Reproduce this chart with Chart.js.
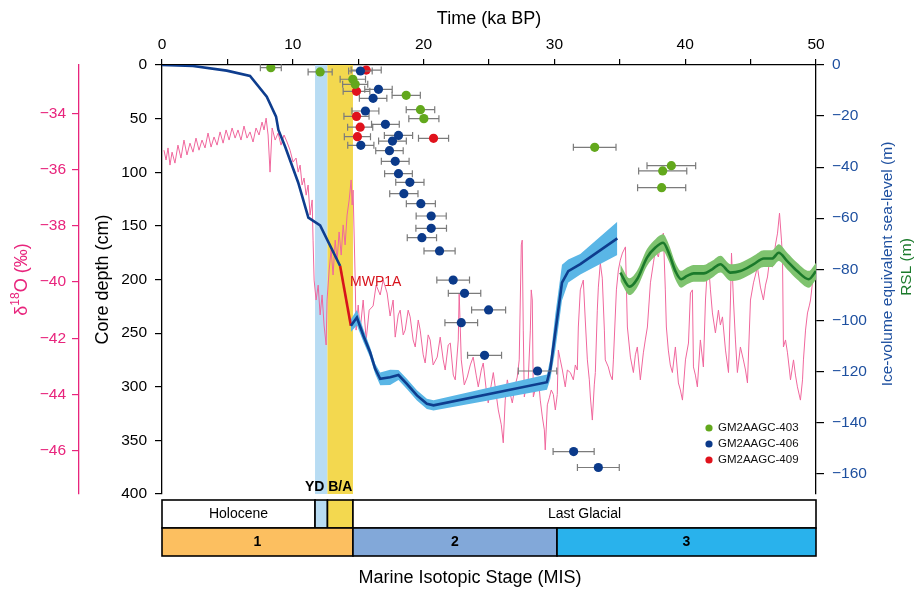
<!DOCTYPE html>
<html><head><meta charset="utf-8">
<script src="https://cdn.jsdelivr.net/npm/chart.js@4.4.1/dist/chart.umd.min.js"></script>
<style>html,body{margin:0;padding:0;background:#fff}#wrap{width:919px;height:590px}</style>
</head><body><div id="wrap"><canvas id="c" width="919" height="590"></canvas></div>
<script>
// ---------- tick labels ----------
const timeTicks = [0,5,10,15,20,25,30,35,40,45,50];
const depthTicks = [0,50,100,150,200,250,300,350,400];
const d18OTicks = [-34,-36,-38,-40,-42,-44,-46];
const seaLevelTicks = [0,-20,-40,-60,-80,-100,-120,-140,-160];

// ---------- δ18O record (ka BP, ‰) ----------
const d18OAge = [0.15,0.31,0.46,0.61,0.77,0.99,1.22,1.45,1.68,1.91,2.14,2.37,2.60,2.83,3.06,3.29,3.52,3.75,3.98,4.21,4.44,4.67,4.90,5.13,5.36,5.59,5.81,6.04,6.27,6.50,6.73,6.96,7.19,7.42,7.65,7.80,7.96,8.11,8.26,8.42,8.65,8.88,9.10,9.33,9.56,9.79,10.02,10.25,10.41,10.56,10.71,10.86,11.02,11.17,11.32,11.48,11.55,11.63,11.78,11.94,12.09,12.24,12.39,12.55,12.62,12.78,12.93,13.08,13.24,13.39,13.54,13.70,13.85,14.00,14.15,14.31,14.46,14.54,14.61,14.77,14.84,15.00,15.15,15.38,15.61,15.84,16.14,16.37,16.68,16.91,17.21,17.44,17.67,17.83,18.06,18.21,18.44,18.59,18.82,18.97,19.20,19.36,19.59,19.74,19.97,20.12,20.35,20.50,20.73,21.04,21.27,21.50,21.65,21.88,22.04,22.27,22.42,22.65,22.72,22.88,23.11,23.34,23.57,23.79,24.02,24.18,24.41,24.56,24.79,24.94,25.17,25.33,25.55,25.71,25.94,26.09,26.24,26.40,26.63,26.78,27.01,27.16,27.31,27.47,27.54,27.62,27.70,27.85,28.00,28.16,28.23,28.31,28.39,28.62,28.77,28.92,29.08,29.23,29.30,29.46,29.61,29.76,29.92,30.07,30.22,30.30,30.45,30.61,30.83,30.99,31.22,31.45,31.60,31.75,31.83,31.98,32.14,32.21,32.36,32.52,32.67,32.75,32.90,33.05,33.13,33.28,33.36,33.51,33.66,33.82,33.89,34.12,34.28,34.43,34.51,34.74,34.89,35.04,35.20,35.43,35.58,35.81,36.04,36.19,36.34,36.57,36.80,36.95,37.11,37.34,37.57,37.72,37.95,38.10,38.25,38.33,38.48,38.56,38.71,38.86,39.02,39.25,39.48,39.63,39.79,40.02,40.25,40.40,40.55,40.63,40.78,40.93,41.16,41.39,41.55,41.70,41.78,41.93,42.08,42.31,42.54,42.69,42.85,43.08,43.31,43.46,43.54,43.69,43.84,43.99,44.22,44.45,44.61,44.76,44.99,45.22,45.37,45.52,45.75,45.98,46.14,46.29,46.52,46.67,46.90,47.06,47.21,47.36,47.44,47.51,47.67,47.82,47.97,48.05,48.28,48.43,48.58,48.81,48.97,49.04,49.20,49.35,49.50,49.58,49.73,49.81,49.96];
const d18OValue = [-35.31,-35.66,-35.23,-35.84,-35.38,-35.77,-35.13,-35.59,-34.95,-35.48,-35.06,-35.38,-34.88,-35.31,-34.95,-35.23,-34.70,-35.20,-34.84,-35.13,-34.66,-35.06,-34.59,-34.95,-34.52,-34.88,-34.59,-34.95,-34.45,-34.88,-34.66,-35.02,-34.52,-34.77,-34.31,-34.59,-34.17,-34.77,-36.09,-34.52,-34.95,-34.70,-35.13,-34.77,-35.02,-35.31,-35.73,-35.59,-36.09,-35.84,-36.55,-36.30,-36.91,-36.55,-37.62,-37.08,-38.51,-39.93,-40.64,-40.11,-41.17,-40.46,-41.53,-42.24,-40.64,-39.57,-38.86,-39.75,-38.51,-39.22,-38.22,-39.04,-37.97,-38.68,-37.62,-37.08,-36.37,-37.26,-36.73,-39.93,-41.71,-40.82,-41.71,-40.64,-42.06,-41.00,-40.85,-40.11,-40.46,-39.93,-40.39,-41.21,-40.64,-41.96,-41.17,-41.00,-41.88,-41.71,-41.00,-41.24,-42.06,-42.31,-41.35,-41.71,-42.59,-42.88,-41.88,-42.06,-42.95,-42.67,-41.96,-42.77,-43.13,-42.24,-42.17,-43.31,-43.48,-42.06,-40.39,-42.77,-43.66,-43.38,-42.95,-42.67,-43.31,-43.73,-43.13,-42.88,-43.84,-44.30,-43.66,-43.22,-44.00,-44.55,-45.08,-45.72,-44.20,-43.48,-44.00,-44.30,-43.66,-43.38,-42.77,-38.68,-38.51,-41.71,-44.09,-43.66,-43.48,-41.71,-40.28,-40.64,-44.09,-43.66,-43.38,-44.20,-44.80,-45.26,-45.97,-44.37,-44.12,-43.84,-44.00,-44.55,-44.00,-42.42,-42.77,-43.13,-43.73,-43.13,-43.22,-43.48,-42.95,-43.13,-41.60,-40.28,-40.03,-39.93,-41.35,-42.77,-43.48,-44.09,-44.91,-43.66,-43.22,-41.00,-40.18,-39.32,-39.86,-41.71,-42.77,-43.02,-43.31,-43.48,-42.77,-40.28,-39.57,-39.22,-38.97,-38.75,-41.60,-42.67,-43.22,-42.59,-42.31,-43.48,-42.52,-42.06,-41.60,-40.03,-39.32,-38.86,-39.11,-38.68,-38.40,-38.26,-40.28,-41.60,-42.42,-42.95,-43.22,-42.31,-43.59,-43.84,-44.20,-42.77,-42.17,-40.39,-40.28,-43.02,-43.31,-43.73,-42.06,-43.02,-40.64,-39.47,-39.32,-40.28,-41.10,-41.81,-41.00,-41.53,-41.24,-42.42,-43.22,-40.64,-38.97,-40.64,-42.06,-43.22,-42.31,-42.77,-43.13,-43.59,-40.64,-40.03,-39.75,-39.47,-40.18,-40.64,-40.11,-39.82,-38.97,-39.47,-38.68,-38.26,-37.55,-38.51,-39.11,-42.31,-42.06,-42.52,-43.13,-43.48,-42.77,-43.31,-43.73,-44.20,-43.48,-42.77,-41.71,-41.10,-40.82,-40.64,-40.03,-39.82,-39.93];

// ---------- ice-volume equivalent sea level (ka BP, m, ±m) ----------
const iceAge = [0,2.37,4.95,6.73,8.01,8.72,8.90,9.41,10.41,11.19,12.09,13.62,14.44,14.90,15.40,15.91,16.30,16.68,17.44,18.08,18.72,19.49,20.25,20.76,29.43,29.69,30.07,30.58,31.06,31.98,34.81];
const iceSL = [0,-0.4,-2.2,-4.3,-12.4,-20.2,-25.4,-31.9,-46.0,-59.8,-62.8,-78.7,-102.1,-98.9,-106.0,-112.5,-119.0,-122.9,-122.3,-121.4,-124.9,-129.4,-132.7,-133.3,-124.2,-119.0,-104.6,-85.2,-80.7,-78.0,-67.9];
const iceErr = [null,null,null,null,null,null,null,null,null,null,null,null,2.5,3,2.5,2,2,2.5,3,2,2,2,2,2,3,4,7,7,4.5,4,6.5];
const mwp1aStart = 13.6, mwp1aEnd = 14.45;

// ---------- RSL (ka BP, m, ±m) ----------
const rslAge = [35.04,35.75,36.32,37.08,37.72,38.31,38.74,39.25,39.69,40.14,40.65,41.42,42.06,42.69,43.46,44.22,45.24,46.01,46.65,47.15,47.80,48.56,49.45,50.0];
const rslValue = [-81.3,-86.8,-83.9,-75.4,-71.5,-69.6,-73.5,-80.7,-83.9,-82.6,-81.6,-81.6,-80.0,-78.0,-81.3,-80.7,-78.0,-75.8,-75.8,-73.5,-76.8,-80.7,-83.9,-80.7];
const rslErr = [3.3,3.3,3.3,3.3,3.3,3.3,3.3,3.3,3.3,3.3,3.3,3.3,3.3,3.3,3.3,3.3,3.3,3.3,3.3,3.3,3.3,3.3,3.3,3.3];

// ---------- dated samples (ka BP, core depth cm, ±ka) ----------
const s403Age = [8.32,12.09,14.59,14.77,18.67,19.76,20.02,33.08,38.94,38.28,38.20];
const s403Depth = [2.5,6.5,13.3,18.0,28.3,41.7,50.0,76.8,93.9,98.8,114.4];
const s403Err = [0.80,0.92,0.97,0.96,1.08,1.09,1.15,1.63,1.86,1.84,1.84];
const s406Age = [15.17,16.55,16.14,15.55,17.08,18.08,17.62,15.20,17.39,17.83,18.08,18.95,18.49,19.79,20.58,20.58,19.87,21.22,22.26,23.13,24.97,22.88,24.66,28.71,31.47,33.36];
const s406Depth = [5.6,22.7,31.1,42.9,55.3,65.7,70.9,74.9,79.9,89.8,101.3,109.4,120.0,129.3,140.8,152.3,161.0,173.4,200.5,212.9,228.4,240.3,270.7,285.3,360.4,375.3];
const s406Err = [0.90,1.05,1.05,1.03,1.06,1.08,1.06,1.00,1.05,1.06,1.06,1.08,1.08,1.11,1.15,1.17,1.12,1.19,1.25,1.24,1.30,1.25,1.30,1.47,1.57,1.60];
const s409Age = [15.61,14.87,14.87,15.15,14.94,20.76];
const s409Depth = [4.7,24.5,47.9,58.0,66.8,68.4];
const s409Err = [1.15,1.02,0.96,0.96,1.00,1.15];

// ---------- periods ----------
const periodNames = ['Holocene','','','Last Glacial'];
const periodStart = [0,11.7,12.65,14.6];
const periodEnd = [11.7,12.65,14.6,50];
const eventNames = ['YD','B/A'];
const eventStart = [11.7,12.65];
const eventEnd = [12.65,14.6];
const misNames = ['1','2','3'];
const misStart = [0,14.6,30.2];
const misEnd = [14.6,30.2,50];
const mwpLabel = {text:'MWP1A', age:14.38, sl:-85.1};

// ---------- styles ----------
const COL = {
  pinkAxis:'#e8247c', pinkLine:'#f0679d', navy:'#0e3d8e', iceBand:'#5ab6e6', green:'#1b7a2b', rslBand:'#7fc36f',
  red:'#d7121c', g403:'#62a81c', g406:'#0b3a8a', g409:'#e0121c', err:'#7b7b7b', slText:'#1d4f9f',
  yd:'#b8dcf3', ba:'#f3d84f', mis:['#fcbf60','#82a8d9','#29b2ec'], periodFill:['#ffffff','#b8dcf3','#f3d84f','#ffffff']
};
const FONT = "'Liberation Sans', Arial, Helvetica, sans-serif";
Chart.defaults.font.family = FONT;
Chart.defaults.color = '#000';

const pts = (xs, ys) => xs.map((x,i) => ({x, y: ys[i]})).filter(p => p.y !== null);
const bandPts = (xs, ys, es, sign) => xs.map((x,i) => es[i] === null ? null : ({x, y: ys[i] + sign*es[i]})).filter(p => p);

// ---------- plugins ----------
const eventBands = {
  id:'eventBands',
  beforeDatasetsDraw(chart) {
    const {ctx, chartArea:a, scales:{x}} = chart;
    ctx.save();
    [COL.yd, COL.ba].forEach((c,i) => {
      const x0 = x.getPixelForValue(eventStart[i]), x1 = x.getPixelForValue(eventEnd[i]);
      ctx.fillStyle = c; ctx.fillRect(x0, a.top, x1-x0, a.bottom-a.top);
    });
    ctx.restore();
  }
};
const errorBars = {
  id:'errorBars',
  beforeDatasetDraw(chart, args) {
    const ds = chart.data.datasets[args.index];
    if (!ds.xErr) return;
    const {ctx} = chart; const xs = chart.scales.x; const ys = chart.scales[ds.yAxisID];
    ctx.save(); ctx.strokeStyle = COL.err; ctx.lineWidth = 1.2;
    ds.data.forEach((p,i) => {
      const x0 = xs.getPixelForValue(p.x - ds.xErr[i]), x1 = xs.getPixelForValue(p.x + ds.xErr[i]), y = ys.getPixelForValue(p.y);
      ctx.beginPath();
      ctx.moveTo(x0,y); ctx.lineTo(x1,y);
      ctx.moveTo(x0,y-3.5); ctx.lineTo(x0,y+3.5);
      ctx.moveTo(x1,y-3.5); ctx.lineTo(x1,y+3.5);
      ctx.stroke();
    });
    ctx.restore();
  }
};
const decorations = {
  id:'decorations',
  afterDraw(chart) {
    const {ctx, chartArea:a, scales:{x, ySL}} = chart;
    ctx.save();
    // MWP1A label
    ctx.fillStyle = COL.red; ctx.font = `14px ${FONT}`; ctx.textAlign='left'; ctx.textBaseline='middle';
    ctx.fillText(mwpLabel.text, x.getPixelForValue(mwpLabel.age), ySL.getPixelForValue(mwpLabel.sl));

    // δ18O title with superscript
    ctx.save();
    ctx.translate(22, (a.top + a.bottom)/2); ctx.rotate(-Math.PI/2);
    ctx.fillStyle = COL.pinkAxis; ctx.textBaseline='middle'; ctx.textAlign='left';
    const big = `18px ${FONT}`, small = `12px ${FONT}`;
    ctx.font = big; const w1 = ctx.measureText('δ').width, w3 = ctx.measureText('O (‰)').width;
    ctx.font = small; const w2 = ctx.measureText('18').width;
    let sx = -(w1+w2+w3)/2;
    ctx.font = big; ctx.fillText('δ', sx, 0); sx += w1;
    ctx.font = small; ctx.fillText('18', sx, -6); sx += w2;
    ctx.font = big; ctx.fillText('O (‰)', sx, 0);
    ctx.restore();

    // right titles
    ctx.save();
    ctx.translate(888, a.top + 199); ctx.rotate(-Math.PI/2);
    ctx.textAlign='center'; ctx.textBaseline='middle'; ctx.font = `15.5px ${FONT}`;
    ctx.fillStyle = COL.slText; ctx.fillText('Ice-volume equivalent sea-level (m)', 0, 0);
    ctx.restore();
    ctx.save();
    ctx.translate(907, a.top + 202); ctx.rotate(-Math.PI/2);
    ctx.textAlign='center'; ctx.textBaseline='middle'; ctx.font = `15.5px ${FONT}`;
    ctx.fillStyle = COL.green; ctx.fillText('RSL (m)', 0, 0);
    ctx.restore();

    // event labels
    ctx.fillStyle = '#000'; ctx.font = `bold 14px ${FONT}`; ctx.textBaseline='middle';
    ctx.textAlign='right'; ctx.fillText(eventNames[0], x.getPixelForValue(eventEnd[0]) - 3, a.bottom - 7);
    ctx.textAlign='center'; ctx.fillText(eventNames[1], (x.getPixelForValue(eventStart[1]) + x.getPixelForValue(eventEnd[1]))/2, a.bottom - 7);

    // period row and MIS row
    const r1 = a.bottom + 6, h = 28, r2 = r1 + h;
    ctx.lineWidth = 1.6; ctx.strokeStyle = '#000';
    periodNames.forEach((n,i) => {
      const x0 = x.getPixelForValue(periodStart[i]), x1 = x.getPixelForValue(periodEnd[i]);
      ctx.fillStyle = COL.periodFill[i]; ctx.fillRect(x0, r1, x1-x0, h); ctx.strokeRect(x0, r1, x1-x0, h);
      if (n) { ctx.fillStyle='#000'; ctx.font=`14px ${FONT}`; ctx.textAlign='center'; ctx.fillText(n, (x0+x1)/2, r1 + h/2); }
    });
    misNames.forEach((n,i) => {
      const x0 = x.getPixelForValue(misStart[i]), x1 = x.getPixelForValue(misEnd[i]);
      ctx.fillStyle = COL.mis[i]; ctx.fillRect(x0, r2, x1-x0, h); ctx.strokeRect(x0, r2, x1-x0, h);
      ctx.fillStyle='#000'; ctx.font=`bold 14px ${FONT}`; ctx.textAlign='center'; ctx.fillText(n, (x0+x1)/2, r2 + h/2);
    });
    ctx.font = `18px ${FONT}`; ctx.textAlign='center'; ctx.fillStyle='#000';
    ctx.fillText('Marine Isotopic Stage (MIS)', 470, r2 + h + 22);

    // legend
    const samples = chart.data.datasets.filter(d => d.xErr);
    ctx.font = `11.5px ${FONT}`; ctx.textAlign='left';
    samples.forEach((d,i) => {
      const y = 428 + i*16;
      ctx.fillStyle = d.backgroundColor; ctx.beginPath(); ctx.arc(709, y, 3.6, 0, Math.PI*2); ctx.fill();
      ctx.fillStyle = '#111'; ctx.fillText(d.label, 718, y);
    });
    ctx.restore();
  }
};

const minus = v => v < 0 ? '\u2212' + Math.abs(v) : String(v);
const fixTicks = arr => s => { s.ticks = arr.map(v => ({value:v})); };

new Chart(document.getElementById('c'), {
  type:'line',
  data:{ datasets:[
    {label:'GM2AAGC-403', type:'scatter', data:pts(s403Age,s403Depth), xErr:s403Err, yAxisID:'yDepth', backgroundColor:COL.g403, borderColor:COL.g403, pointRadius:4.6, pointBorderWidth:0, order:0},
    {label:'GM2AAGC-406', type:'scatter', data:pts(s406Age,s406Depth), xErr:s406Err, yAxisID:'yDepth', backgroundColor:COL.g406, borderColor:COL.g406, pointRadius:4.6, pointBorderWidth:0, order:0},
    {label:'GM2AAGC-409', type:'scatter', data:pts(s409Age,s409Depth), xErr:s409Err, yAxisID:'yDepth', backgroundColor:COL.g409, borderColor:COL.g409, pointRadius:4.6, pointBorderWidth:0, order:0},
    {label:'Ice-volume equivalent sea-level', data:pts(iceAge,iceSL), yAxisID:'ySL', borderColor:COL.navy, borderWidth:2.6, pointRadius:0, fill:false, order:1,
      segment:{ borderColor: c => (c.p0.parsed.x >= mwp1aStart && c.p1.parsed.x <= mwp1aEnd) ? COL.red : undefined }},
    {label:'RSL', data:pts(rslAge,rslValue), yAxisID:'ySL', borderColor:COL.green, borderWidth:2.6, pointRadius:0, fill:false, cubicInterpolationMode:'monotone', order:1},
    {label:'ice upper', data:bandPts(iceAge,iceSL,iceErr,1), yAxisID:'ySL', borderWidth:0, pointRadius:0, fill:false, order:2},
    {label:'ice lower', data:bandPts(iceAge,iceSL,iceErr,-1), yAxisID:'ySL', borderWidth:0, pointRadius:0, fill:'-1', backgroundColor:COL.iceBand, order:2},
    {label:'rsl upper', data:bandPts(rslAge,rslValue,rslErr,1), yAxisID:'ySL', borderWidth:0, pointRadius:0, fill:false, cubicInterpolationMode:'monotone', order:2},
    {label:'rsl lower', data:bandPts(rslAge,rslValue,rslErr,-1), yAxisID:'ySL', borderWidth:0, pointRadius:0, fill:'-1', backgroundColor:COL.rslBand, cubicInterpolationMode:'monotone', order:2},
    {label:'δ18O', data:pts(d18OAge,d18OValue), yAxisID:'yD18O', borderColor:COL.pinkLine, borderWidth:1, pointRadius:0, fill:false, order:3}
  ]},
  options:{
    responsive:false, animation:false, events:[],
    layout:{ padding:{top:0, right:0, bottom:96, left:0} },
    plugins:{ legend:{display:false}, tooltip:{enabled:false} },
    scales:{
      x:{ type:'linear', position:'top', min:0, max:50,
        afterBuildTicks: fixTicks(timeTicks), afterFit: s => { s.height = 65; },
        ticks:{ autoSkip:false, maxRotation:0, padding:5, font:{size:15.5}, color:'#000', callback: v => v % 10 === 0 ? String(v) : '' },
        grid:{ drawOnChartArea:false, drawTicks:true, tickLength:6, color:'#000', lineWidth:1.2 },
        border:{ display:true, color:'#000', width:1.3 },
        title:{ display:true, text:'Time (ka BP)', font:{size:18}, color:'#000', padding:{top:8, bottom:0} } },
      yDepth:{ type:'linear', position:'left', weight:0, min:0, max:400, reverse:true,
        afterBuildTicks: fixTicks(depthTicks), afterFit: s => { s.width = 83; },
        ticks:{ autoSkip:false, padding:8, font:{size:15.5}, color:'#000' },
        grid:{ drawOnChartArea:false, drawTicks:true, tickLength:7, color:'#000', lineWidth:1.2 },
        border:{ display:true, color:'#000', width:1.3 },
        title:{ display:true, text:'Core depth (cm)', font:{size:18}, color:'#000', padding:{top:13, bottom:0} } },
      yD18O:{ type:'linear', position:'left', weight:1, min:-47.54, max:-32.28,
        afterBuildTicks: fixTicks(d18OTicks), afterFit: s => { s.width = 79; },
        ticks:{ autoSkip:false, padding:6, font:{size:15.5}, color:COL.pinkAxis, callback: v => minus(v) },
        grid:{ drawOnChartArea:false, drawTicks:true, tickLength:7, color:COL.pinkAxis, lineWidth:1.2 },
        border:{ display:true, color:COL.pinkAxis, width:1.3 } },
      ySL:{ type:'linear', position:'right', min:-168, max:0,
        afterBuildTicks: fixTicks(seaLevelTicks), afterFit: s => { s.width = 103; },
        ticks:{ autoSkip:false, padding:8, font:{size:15.5}, color:COL.slText, callback: v => minus(v) },
        grid:{ drawOnChartArea:false, drawTicks:true, tickLength:8, color:'#000', lineWidth:1.2 },
        border:{ display:true, color:'#000', width:1.3 } }
    }
  },
  plugins:[eventBands, errorBars, decorations]
});
</script>
</body></html>
